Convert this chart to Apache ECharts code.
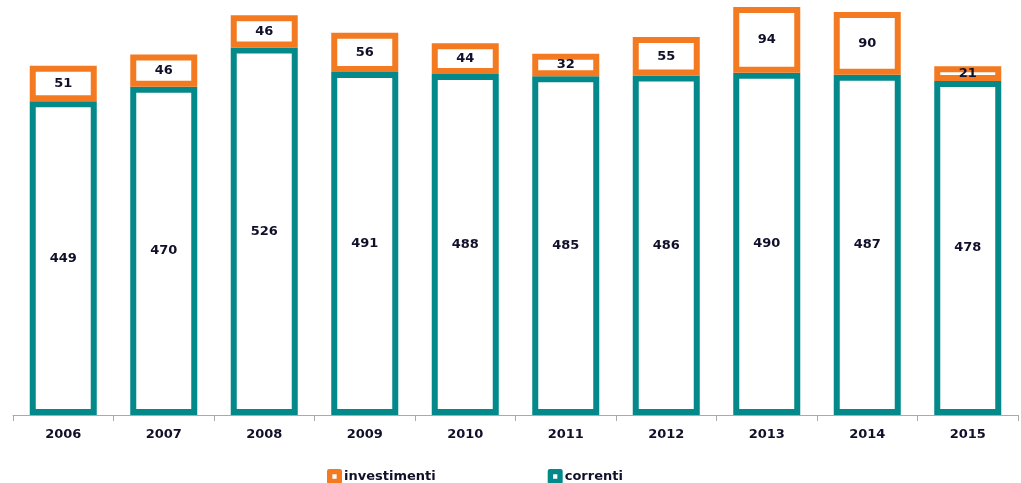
<!DOCTYPE html>
<html><head><meta charset="utf-8">
<script src="https://cdn.jsdelivr.net/npm/echarts@6/dist/echarts.min.js"></script>
<style>html,body{margin:0;padding:0;background:#fff}#c{width:1021px;height:483px}</style>
</head><body><div id="c"></div>
<script>
const categories = ['2006','2007','2008','2009','2010','2011','2012','2013','2014','2015'];
const correnti = [449,470,526,491,488,485,486,490,487,478];
const investimenti = [51,46,46,56,44,32,55,94,90,21];
const ORANGE = '#F47A22', TEAL = '#03898A', TXT = '#10102a';
const ICON = 'path://M2 0H12Q14 0 14 2V12Q14 14 12 14H2Q0 14 0 12V2Q0 0 2 0ZM5 5V9H9V5Z';
const chart = echarts.init(document.getElementById('c'));
const lbl = {show:true, position:'inside', color:TXT, fontFamily:'DejaVu Sans', fontWeight:'bold', fontSize:13};
chart.setOption({
  animation:false,
  grid:{left:13, right:3, top:0, bottom:68},
  legend:{
    data:[
      {name:'investimenti', icon:ICON, itemStyle:{color:ORANGE, borderWidth:0}},
      {name:'correnti', icon:ICON, itemStyle:{color:TEAL, borderWidth:0}}
    ],
    left:322, top:464, itemWidth:15, itemHeight:15, itemGap:112,
    textStyle:{color:TXT, fontFamily:'DejaVu Sans', fontWeight:'bold', fontSize:13, padding:[0,0,0,-3]}
  },
  xAxis:{type:'category', data:categories,
    axisLine:{lineStyle:{color:'#aaaaaa', width:1}},
    axisTick:{show:true, length:6, lineStyle:{color:'#aaaaaa'}},
    axisLabel:{color:TXT, fontFamily:'DejaVu Sans', fontWeight:'bold', fontSize:13, margin:13}
  },
  yAxis:{type:'value', min:0, max:594, show:false, splitLine:{show:false}},
  series:[
    {name:'correnti', type:'bar', stack:'a', data:correnti, barWidth:67,
     itemStyle:{color:'#fff', borderColor:TEAL, borderWidth:6}, label:lbl},
    {name:'investimenti', type:'bar', stack:'a', data:investimenti, barWidth:67,
     itemStyle:{color:'#fff', borderColor:ORANGE, borderWidth:6}, label:lbl}
  ]
});
</script></body></html>
